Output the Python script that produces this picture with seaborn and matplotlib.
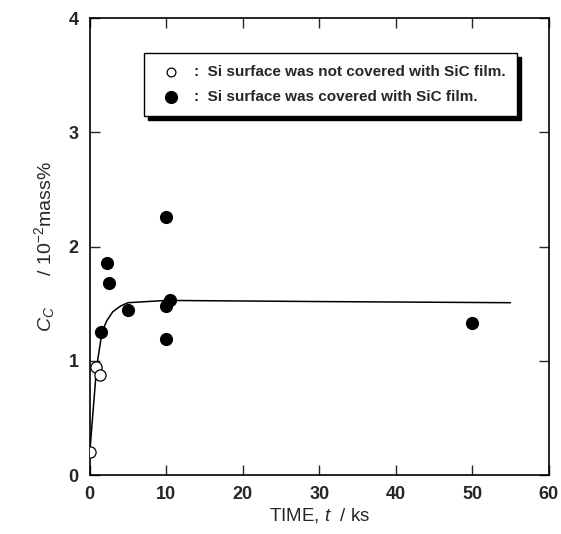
import matplotlib
matplotlib.use("Agg")
import matplotlib.pyplot as plt
import pandas as pd
import seaborn as sns

# open circles: Si surface not covered with SiC film
OPEN_T = [0.0, 0.8, 1.3]
OPEN_C = [0.20, 0.95, 0.88]

# filled circles: Si surface covered with SiC film
FILLED_T = [1.5, 2.3, 2.5, 5.0, 10.0, 10.5, 10.0, 10.0, 50.0]
FILLED_C = [1.25, 1.86, 1.68, 1.45, 1.48, 1.53, 1.19, 2.26, 1.33]

# curve
CURVE_T = [0.0, 0.9, 1.6, 2.2, 3.0, 4.0, 5.0, 10.0, 30.0, 55.0]
CURVE_C = [0.20, 0.95, 1.25, 1.35, 1.43, 1.48, 1.51, 1.53, 1.52, 1.51]

LABEL_OPEN = ":  Si surface was not covered with SiC film."
LABEL_FILLED = ":  Si surface was covered with SiC film."


def main() -> None:
    sns.set_theme(style="ticks")
    plt.rcParams["font.family"] = ["Liberation Sans", "DejaVu Sans"]
    plt.rcParams["mathtext.fontset"] = "custom"
    plt.rcParams["mathtext.it"] = "Liberation Sans:italic"
    plt.rcParams["mathtext.rm"] = "Liberation Sans"

    fig = plt.figure(figsize=(5.61, 5.34), dpi=100)
    ax = fig.add_axes([0.160, 0.110, 0.818, 0.856])

    curve = pd.DataFrame({"t": CURVE_T, "c": CURVE_C})
    sns.lineplot(data=curve, x="t", y="c", ax=ax, color="black", linewidth=1.1,
                 sort=False, legend=False)

    sns.scatterplot(x=FILLED_T, y=FILLED_C, ax=ax, color="black", edgecolor="black",
                    s=75, linewidth=0.8, label=LABEL_FILLED, zorder=3)
    sns.scatterplot(x=OPEN_T, y=OPEN_C, ax=ax, color="white", edgecolor="black",
                    s=65, linewidth=0.9, label=LABEL_OPEN, zorder=4)

    ax.set_xlim(0, 60)
    ax.set_ylim(0, 4)
    ax.set_xticks([0, 10, 20, 30, 40, 50, 60])
    ax.set_yticks([0, 1, 2, 3, 4])
    ax.tick_params(direction="in", length=7, width=1, labelsize=13,
                   top=True, right=True, pad=8)
    for lab in ax.get_xticklabels() + ax.get_yticklabels():
        lab.set_fontweight("bold")
    for s in ax.spines.values():
        s.set_linewidth(1.2)
        s.set_color("black")

    ax.set_xlabel("TIME, $t$  / ks", fontsize=13.5, labelpad=2)
    ax.set_ylabel(r"$C_{C}$      / 10$^{-2}$mass%", fontsize=14, labelpad=8)

    handles, labels = ax.get_legend_handles_labels()
    order = [labels.index(LABEL_OPEN), labels.index(LABEL_FILLED)]
    leg = ax.legend([handles[i] for i in order], [labels[i] for i in order],
                    loc="upper left", bbox_to_anchor=(0.102, 0.94),
                    frameon=True, fancybox=False,
                    shadow={"color": "black", "alpha": 1.0, "ox": 3, "oy": -3},
                    edgecolor="black", fontsize=11, handletextpad=0.5,
                    borderpad=0.75, labelspacing=0.75)
    leg.get_frame().set_linewidth(1.0)
    leg.legend_handles[0].set_sizes([40])
    leg.legend_handles[1].set_sizes([75])
    for t in leg.get_texts():
        t.set_fontweight("bold")

    fig.savefig("out.png", dpi=100)


if __name__ == "__main__":
    main()
